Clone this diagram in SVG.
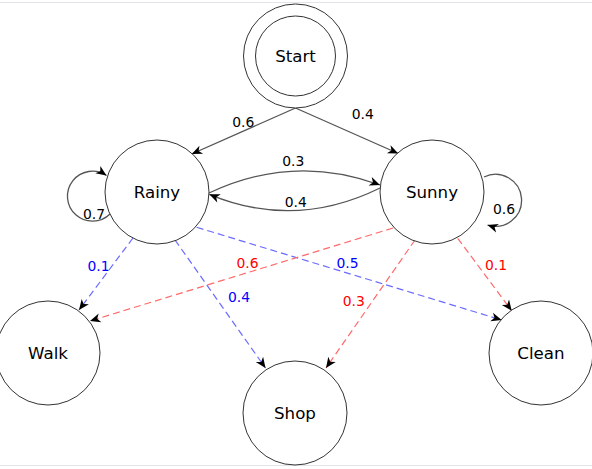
<svg xmlns="http://www.w3.org/2000/svg" width="592" height="469" viewBox="0 0 592 469">
<style>
.node{fill:#fff;stroke:#333;stroke-width:1}
.nl{font-family:"DejaVu Sans",sans-serif;font-size:16.67px;fill:#000;text-anchor:middle}
.el{font-family:"DejaVu Sans",sans-serif;font-size:13.9px;text-anchor:middle}
.solid{fill:none;stroke:#555;stroke-width:1.3}
.blue{fill:none;stroke:#6a6aff;stroke-width:1.2;stroke-dasharray:7 4}
.red{fill:none;stroke:#ff6a6a;stroke-width:1.2;stroke-dasharray:7 4}
.bt{fill:#0000ff}
.rt{fill:#ff0000}
.kt{fill:#000}
.frame{stroke:#e3e3ea;stroke-width:1}
</style>
<defs>
<marker id="arr" markerUnits="userSpaceOnUse" viewBox="-11 -6 12 12" refX="0" refY="0" markerWidth="12" markerHeight="12" orient="auto">
<path d="M0,0 L-10.5,-4.5 L-7.5,0 L-10.5,4.5 Z" fill="#000"/>
</marker>
</defs>
<rect width="592" height="469" fill="#fff"/>
<line class="frame" x1="0" y1="2.5" x2="592" y2="2.5"/>
<line class="frame" x1="0" y1="465.5" x2="592" y2="465.5"/>
<g id="connectors">
<path class="solid" d="M295.5,108 L191.7,154" marker-end="url(#arr)"/>
<path class="solid" d="M295.5,108 L398.3,153.5" marker-end="url(#arr)"/>
<path class="solid" d="M209,193 Q294,153 380,185" marker-end="url(#arr)"/>
<path class="solid" d="M380,188 Q295,230 209.3,194.3" marker-end="url(#arr)"/>
<path class="solid" d="M110,214 A25 25 0 1 1 106.5,175.5" marker-end="url(#arr)"/>
<path class="solid" d="M484,177 A26 26 0 1 1 487.5,225" marker-end="url(#arr)"/>
<path class="blue" d="M133,238 L79,310" marker-end="url(#arr)"/>
<path class="blue" d="M175,240 L265.5,368" marker-end="url(#arr)"/>
<path class="blue" d="M196.7,227.3 L501.7,320" marker-end="url(#arr)"/>
<path class="red" d="M393,228 L90,321" marker-end="url(#arr)"/>
<path class="red" d="M415,240 L326,368" marker-end="url(#arr)"/>
<path class="red" d="M457.7,238.3 L511.7,310.7" marker-end="url(#arr)"/>
<text class="el kt" x="243.3" y="127">0.6</text>
<text class="el kt" x="362.7" y="119">0.4</text>
<text class="el kt" x="293.3" y="166">0.3</text>
<text class="el kt" x="295.7" y="206.7">0.4</text>
<text class="el kt" x="94" y="218.5">0.7</text>
<text class="el kt" x="504" y="214">0.6</text>
<text class="el bt" x="98.5" y="271">0.1</text>
<text class="el bt" x="239" y="302">0.4</text>
<text class="el bt" x="347.5" y="268">0.5</text>
<text class="el rt" x="247.5" y="268">0.6</text>
<text class="el rt" x="353.7" y="306">0.3</text>
<text class="el rt" x="496" y="269.5">0.1</text>
</g>
<g id="start">
<circle class="node" cx="295.5" cy="56" r="52"/>
<circle class="node" cx="295.5" cy="56" r="40"/>
<text class="nl" x="295.5" y="62">Start</text>
</g>
<g id="rainy">
<circle class="node" cx="157" cy="192" r="52"/>
<text class="nl" x="157" y="198">Rainy</text>
</g>
<g id="sunny">
<circle class="node" cx="432" cy="192" r="52"/>
<text class="nl" x="432" y="198">Sunny</text>
</g>
<g id="walk">
<circle class="node" cx="48" cy="353" r="52"/>
<text class="nl" x="48" y="359">Walk</text>
</g>
<g id="shop">
<circle class="node" cx="295" cy="413" r="52"/>
<text class="nl" x="295" y="419">Shop</text>
</g>
<g id="clean">
<circle class="node" cx="541" cy="353" r="52"/>
<text class="nl" x="541" y="359">Clean</text>
</g>
</svg>
